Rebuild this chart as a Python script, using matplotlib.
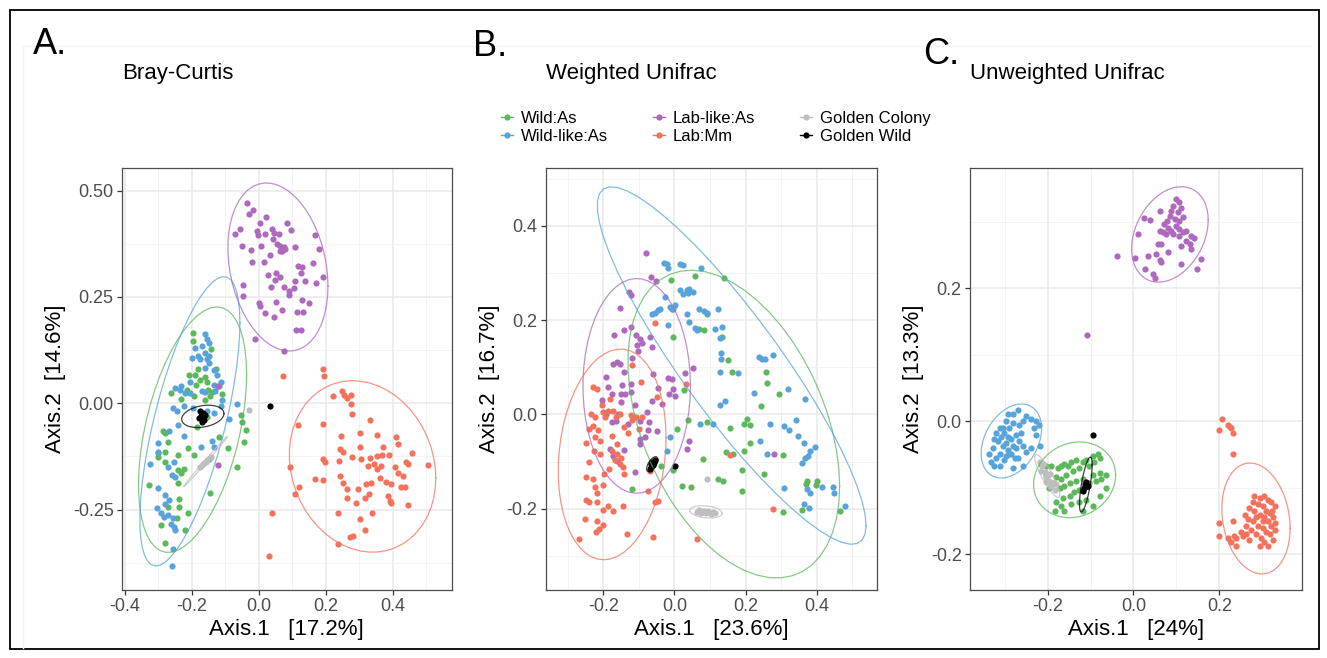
import numpy as np
import matplotlib
matplotlib.use('Agg')
import matplotlib.pyplot as plt
from matplotlib.lines import Line2D
from matplotlib.patches import Rectangle

plt.rcParams['font.family'] = ['Liberation Sans', 'DejaVu Sans']
plt.rcParams['axes.unicode_minus'] = False

GROUPS = ['Wild:As', 'Wild-like:As', 'Lab-like:As', 'Lab:Mm', 'Golden Colony', 'Golden Wild']
COLORS = ['#5DB85B', '#58A4DA', '#AE68BE', '#F4715C', '#BEBEBE', '#000000']

# ---- A. Bray-Curtis ----
bc_wild = [(-0.197, 0.166), (-0.198, 0.146), (-0.143, 0.128), (-0.129, 0.081), (-0.183, 0.081),
           (-0.210, 0.067), (-0.192, 0.067), (-0.162, 0.062), (-0.176, 0.055), (-0.188, 0.044),
           (-0.156, 0.051), (-0.151, 0.032), (-0.141, 0.026), (-0.262, 0.024), (-0.215, 0.032),
           (-0.161, 0.008), (-0.146, 0.016), (-0.109, 0.022), (-0.118, 0.040), (-0.233, 0.010),
           (-0.195, 0.018), (-0.050, -0.045), (-0.040, -0.063), (-0.055, -0.027), (-0.065, -0.149),
           (-0.092, -0.106), (-0.146, -0.210), (-0.193, -0.121), (-0.213, -0.106), (-0.282, -0.069),
           (-0.273, -0.090), (-0.287, -0.066), (-0.302, -0.118), (-0.280, -0.114), (-0.282, -0.137),
           (-0.243, -0.121), (-0.243, -0.157), (-0.233, -0.165), (-0.225, -0.155), (-0.327, -0.192),
           (-0.241, -0.188), (-0.238, -0.224), (-0.238, -0.243), (-0.273, -0.243), (-0.292, -0.287),
           (-0.245, -0.269), (-0.221, -0.297), (-0.213, -0.259), (-0.282, -0.328), (-0.300, -0.127),
           (-0.154, -0.033), (-0.174, -0.031), (-0.184, -0.055), (-0.120, -0.080), (-0.045, -0.090)]
bc_wildlike = [(-0.161, 0.162), (-0.156, 0.150), (-0.149, 0.142), (-0.171, 0.134), (-0.192, 0.130),
               (-0.182, 0.112), (-0.161, 0.118), (-0.149, 0.110), (-0.200, 0.107), (-0.176, 0.104),
               (-0.156, 0.104), (-0.149, 0.095), (-0.133, 0.079), (-0.126, 0.067), (-0.161, 0.083),
               (-0.205, 0.051), (-0.232, 0.040), (-0.235, 0.032), (-0.220, 0.024), (-0.205, 0.024),
               (-0.250, 0.036), (-0.113, 0.049), (-0.133, 0.044), (-0.131, 0.028), (-0.109, 0.008),
               (-0.171, 0.030), (-0.161, 0.026), (-0.258, -0.011), (-0.245, -0.019), (-0.223, -0.007),
               (-0.198, -0.011), (-0.154, -0.019), (-0.134, -0.023), (-0.090, -0.037), (-0.067, -0.001),
               (-0.114, -0.006), (-0.243, -0.051), (-0.223, -0.078), (-0.268, -0.066), (-0.300, -0.094),
               (-0.302, -0.114), (-0.253, -0.137), (-0.273, -0.149), (-0.261, -0.169), (-0.251, -0.174),
               (-0.324, -0.143), (-0.302, -0.200), (-0.282, -0.216), (-0.268, -0.228), (-0.280, -0.237),
               (-0.304, -0.247), (-0.294, -0.259), (-0.284, -0.267), (-0.273, -0.263), (-0.258, -0.271),
               (-0.253, -0.291), (-0.251, -0.298), (-0.263, -0.283), (-0.261, -0.383), (-0.258, -0.342),
               (-0.139, -0.088), (-0.134, -0.102), (-0.149, -0.132), (-0.174, -0.102)]
bc_lablike = [(-0.037, 0.470), (-0.030, 0.445), (-0.018, 0.454), (0.021, 0.438), (0.084, 0.425),
              (0.096, 0.407), (0.002, 0.425), (-0.057, 0.409), (-0.073, 0.399), (-0.007, 0.405),
              (-0.003, 0.395), (0.019, 0.399), (0.039, 0.409), (0.044, 0.401), (0.061, 0.399),
              (0.041, 0.386), (0.054, 0.375), (0.064, 0.370), (0.074, 0.368), (0.069, 0.358),
              (0.079, 0.362), (0.062, 0.358), (0.108, 0.368), (0.168, 0.396), (0.180, 0.362),
              (0.192, 0.297), (-0.050, 0.371), (-0.025, 0.360), (0.007, 0.370), (0.032, 0.348),
              (0.016, 0.333), (-0.022, 0.332), (0.118, 0.323), (0.128, 0.321), (0.126, 0.306),
              (0.162, 0.331), (0.027, 0.302), (0.051, 0.307), (0.047, 0.291), (0.064, 0.298),
              (0.108, 0.287), (0.138, 0.287), (0.170, 0.283), (-0.047, 0.278), (0.036, 0.274),
              (0.074, 0.273), (0.089, 0.264), (0.091, 0.254), (0.106, 0.270), (-0.047, 0.252),
              (0.000, 0.236), (0.004, 0.228), (0.052, 0.238), (0.128, 0.243), (0.148, 0.235),
              (0.019, 0.213), (0.069, 0.219), (0.046, 0.202), (0.113, 0.214), (0.131, 0.214),
              (0.110, 0.173), (0.126, 0.173), (-0.013, 0.150), (0.075, 0.124), (-0.121, 0.040),
              (-0.122, -0.145)]
bc_lab = [(0.071, 0.063), (0.190, 0.080), (0.193, 0.063), (0.222, 0.016), (0.247, 0.028),
          (0.255, 0.020), (0.262, 0.012), (0.274, 0.020), (0.274, -0.002), (0.279, -0.026),
          (0.331, -0.039), (0.118, -0.052), (0.190, -0.048), (0.245, -0.077), (0.301, -0.070),
          (0.354, -0.075), (0.408, -0.080), (0.415, -0.096), (0.242, -0.107), (0.252, -0.115),
          (0.301, -0.102), (0.370, -0.103), (0.458, -0.117), (0.192, -0.132), (0.197, -0.137),
          (0.279, -0.127), (0.331, -0.129), (0.354, -0.124), (0.366, -0.121), (0.388, -0.121),
          (0.439, -0.137), (0.504, -0.145), (0.238, -0.135), (0.306, -0.132), (0.325, -0.147),
          (0.345, -0.142), (0.352, -0.155), (0.365, -0.148), (0.405, -0.151), (0.415, -0.165),
          (0.430, -0.170), (0.445, -0.142), (0.094, -0.151), (0.168, -0.179), (0.190, -0.181),
          (0.242, -0.171), (0.252, -0.188), (0.262, -0.201), (0.296, -0.201), (0.321, -0.189),
          (0.336, -0.188), (0.361, -0.176), (0.380, -0.186), (0.395, -0.191), (0.425, -0.196),
          (0.435, -0.198), (0.121, -0.196), (0.109, -0.214), (0.262, -0.222), (0.289, -0.234),
          (0.316, -0.222), (0.330, -0.214), (0.385, -0.219), (0.390, -0.231), (0.395, -0.234),
          (0.445, -0.240), (0.237, -0.259), (0.301, -0.272), (0.339, -0.259), (0.316, -0.297),
          (0.272, -0.314), (0.280, -0.312), (0.235, -0.330), (0.039, -0.259), (0.030, -0.359)]
bc_gcolony = [(-0.169, -0.145), (-0.159, -0.137), (-0.154, -0.133), (-0.144, -0.127),
              (-0.176, -0.151), (-0.164, -0.141), (-0.030, -0.017)]
bc_gwild = [(-0.175, -0.018), (-0.168, -0.022), (-0.172, -0.030), (-0.165, -0.040),
            (-0.170, -0.045), (-0.178, -0.035), (-0.160, -0.028), (0.034, -0.007)]

# ---- B. Weighted Unifrac ----
wu_wild = [(-0.010, 0.285), (0.058, 0.294), (0.140, 0.289), (-0.007, 0.224), (0.091, 0.212),
           (0.068, 0.181), (0.082, 0.178), (-0.003, 0.164), (0.133, 0.164), (0.150, 0.116),
           (0.162, 0.089), (0.027, 0.052), (0.258, 0.089), (0.260, 0.066), (0.293, 0.043),
           (0.244, 0.017), (0.195, -0.020), (0.204, -0.010), (0.213, -0.022), (0.093, -0.017),
           (0.155, -0.029), (0.037, -0.012), (0.007, -0.030), (0.213, -0.061), (0.145, -0.080),
           (0.166, -0.083), (0.197, -0.077), (0.305, -0.086), (0.080, -0.095), (-0.003, -0.118),
           (0.021, -0.151), (0.046, -0.154), (0.122, -0.136), (0.136, -0.142), (0.190, -0.118),
           (0.251, -0.127), (0.190, -0.163), (0.371, -0.148), (0.373, -0.141), (0.401, -0.141),
           (0.398, -0.150), (0.305, -0.207), (0.359, -0.203), (0.466, -0.205), (-0.038, -0.110),
           (-0.120, -0.158)]
wu_wildlike = [(-0.029, 0.322), (-0.022, 0.319), (-0.017, 0.310), (0.016, 0.319), (0.023, 0.316),
               (0.075, 0.311), (0.016, 0.264), (0.035, 0.264), (0.042, 0.266), (0.051, 0.260),
               (0.025, 0.255), (0.037, 0.257), (-0.064, 0.212), (-0.054, 0.216), (-0.045, 0.221),
               (-0.040, 0.224), (-0.026, 0.248), (-0.012, 0.228), (-0.003, 0.224), (0.002, 0.233),
               (0.068, 0.224), (0.082, 0.220), (0.091, 0.215), (0.124, 0.224), (0.035, 0.212),
               (0.040, 0.197), (0.058, 0.184), (0.063, 0.180), (0.115, 0.182), (0.133, 0.186),
               (0.129, 0.161), (-0.017, 0.190), (0.131, 0.131), (0.131, 0.117), (0.129, 0.091),
               (0.178, 0.088), (0.237, 0.122), (0.246, 0.117), (0.255, 0.117), (0.277, 0.126),
               (0.223, 0.046), (0.319, 0.055), (0.366, 0.033), (0.129, 0.019), (0.143, 0.028),
               (0.072, -0.021), (0.108, -0.021), (0.241, -0.056), (0.269, -0.021), (0.307, -0.025),
               (0.321, -0.034), (0.343, -0.012), (0.349, -0.045), (0.364, -0.060), (0.380, -0.078),
               (0.396, -0.069), (0.376, -0.087), (0.368, -0.092), (0.359, -0.103), (0.260, -0.083),
               (0.309, -0.156), (0.373, -0.158), (0.382, -0.167), (0.415, -0.154), (0.446, -0.154),
               (0.448, -0.167), (0.364, -0.190), (0.378, -0.198), (0.479, -0.194), (-0.022, -0.078),
               (-0.012, -0.047)]
wu_lablike = [(-0.080, 0.342), (-0.066, 0.291), (-0.052, 0.282), (-0.129, 0.259), (-0.122, 0.254),
              (-0.153, 0.226), (-0.169, 0.169), (-0.141, 0.178), (-0.122, 0.185), (-0.108, 0.169),
              (-0.096, 0.160), (-0.092, 0.151), (-0.106, 0.148), (-0.101, 0.134), (-0.070, 0.165),
              (-0.063, 0.142), (-0.174, 0.107), (-0.162, 0.111), (-0.153, 0.108), (-0.141, 0.089),
              (-0.191, 0.079), (-0.186, 0.059), (-0.148, 0.063), (-0.122, 0.065), (-0.150, 0.043),
              (-0.139, 0.043), (-0.122, 0.047), (-0.176, 0.043), (-0.059, 0.086), (-0.047, 0.057),
              (-0.063, 0.029), (-0.036, 0.023), (-0.150, 0.026), (-0.191, 0.001), (-0.176, -0.016),
              (-0.165, -0.013), (-0.158, 0.001), (-0.098, -0.013), (-0.078, 0.005), (-0.071, -0.016),
              (-0.050, -0.036), (-0.098, -0.051), (-0.083, -0.047), (-0.181, -0.073), (-0.141, -0.075),
              (-0.162, -0.098), (-0.172, -0.087), (-0.017, 0.078), (-0.007, 0.075), (-0.015, 0.043),
              (0.002, 0.040), (0.030, 0.088), (0.052, 0.098), (-0.003, 0.055), (0.042, -0.056),
              (0.035, -0.074), (0.279, -0.083), (-0.075, -0.034), (-0.097, -0.063), (-0.111, -0.123),
              (-0.130, -0.020), (-0.110, 0.020), (-0.205, 0.030), (-0.120, 0.120)]
wu_lab = [(-0.054, 0.193), (-0.120, 0.104), (-0.094, 0.068), (-0.230, 0.058), (-0.219, 0.054),
          (-0.181, 0.033), (-0.050, 0.038), (-0.235, 0.001), (-0.223, -0.005), (-0.200, 0.005),
          (-0.186, 0.008), (-0.172, 0.007), (-0.195, -0.006), (-0.165, -0.006), (-0.153, 0.002),
          (-0.122, -0.002), (-0.109, -0.005), (-0.092, -0.006), (-0.118, -0.012), (-0.141, -0.026),
          (-0.228, -0.024), (-0.214, -0.033), (-0.223, -0.048), (-0.209, -0.056), (-0.176, -0.045),
          (-0.162, -0.063), (-0.225, -0.077), (-0.209, -0.084), (-0.176, -0.077), (-0.162, -0.084),
          (-0.150, -0.092), (-0.167, -0.097), (-0.153, -0.104), (-0.144, -0.112), (-0.141, -0.127),
          (-0.250, -0.132), (-0.223, -0.154), (-0.219, -0.167), (-0.249, -0.181), (-0.239, -0.185),
          (-0.219, -0.185), (-0.200, -0.150), (-0.202, -0.203), (-0.186, -0.194), (-0.172, -0.205),
          (-0.145, -0.194), (-0.251, -0.221), (-0.219, -0.225), (-0.212, -0.243), (-0.221, -0.250),
          (-0.200, -0.234), (-0.267, -0.265), (-0.132, -0.253), (-0.061, -0.259), (-0.073, -0.163),
          (-0.054, -0.185), (-0.045, -0.183), (0.063, -0.263), (0.277, -0.201), (0.155, -0.085),
          (0.033, 0.064), (-0.230, -0.136), (-0.198, -0.126), (-0.240, -0.100), (-0.250, -0.060),
          (-0.185, -0.115), (-0.130, -0.040), (-0.100, -0.030), (-0.070, -0.120), (-0.205, 0.020),
          (-0.240, -0.030)]
wu_gcolony = [(0.063, -0.206), (0.070, -0.203), (0.076, -0.208), (0.083, -0.204), (0.089, -0.209),
              (0.095, -0.205), (0.102, -0.210), (0.108, -0.206), (0.114, -0.209), (0.091, -0.136)]
wu_gwild = [(-0.070, -0.116), (-0.067, -0.112), (-0.064, -0.108), (-0.061, -0.104), (-0.058, -0.100),
            (-0.055, -0.096), (-0.066, -0.106), (-0.059, -0.108), (-0.062, -0.100), (0.002, -0.109)]

# ---- C. Unweighted Unifrac ----
uu_wild = [(-0.215, -0.065), (-0.204, -0.068), (-0.192, -0.067), (-0.176, -0.071), (-0.169, -0.068),
           (-0.161, -0.065), (-0.153, -0.068), (-0.145, -0.062), (-0.134, -0.059), (-0.118, -0.062),
           (-0.110, -0.059), (-0.095, -0.052), (-0.083, -0.049), (-0.079, -0.056), (-0.091, -0.062),
           (-0.103, -0.068), (-0.126, -0.071), (-0.141, -0.075), (-0.157, -0.081), (-0.169, -0.087),
           (-0.180, -0.084), (-0.188, -0.093), (-0.172, -0.100), (-0.161, -0.097), (-0.149, -0.093),
           (-0.134, -0.090), (-0.118, -0.087), (-0.103, -0.093), (-0.087, -0.090), (-0.075, -0.087),
           (-0.064, -0.081), (-0.079, -0.078), (-0.095, -0.081), (-0.126, -0.103), (-0.138, -0.106),
           (-0.149, -0.112), (-0.165, -0.116), (-0.180, -0.122), (-0.184, -0.135), (-0.169, -0.128),
           (-0.145, -0.125), (-0.126, -0.122), (-0.110, -0.119), (-0.095, -0.128), (-0.079, -0.112),
           (-0.064, -0.100), (-0.204, -0.081), (-0.196, -0.100), (-0.161, -0.135), (-0.118, -0.135)]
uu_wildlike = [(-0.293, 0.011), (-0.281, 0.011), (-0.270, 0.017), (-0.297, 0.001), (-0.312, -0.011),
               (-0.320, -0.018), (-0.324, -0.027), (-0.316, -0.030), (-0.308, -0.024), (-0.301, -0.018),
               (-0.289, -0.011), (-0.293, -0.024), (-0.285, -0.027), (-0.297, -0.033), (-0.305, -0.037),
               (-0.293, -0.043), (-0.285, -0.049), (-0.277, -0.056), (-0.328, -0.040), (-0.336, -0.049),
               (-0.332, -0.062), (-0.320, -0.056), (-0.312, -0.049), (-0.297, -0.052), (-0.281, -0.037),
               (-0.274, -0.021), (-0.266, -0.005), (-0.258, 0.001), (-0.250, 0.008), (-0.239, 0.004),
               (-0.227, 0.001), (-0.221, -0.005), (-0.231, -0.011), (-0.227, -0.021), (-0.219, -0.037),
               (-0.239, -0.040), (-0.250, -0.046), (-0.258, -0.037), (-0.266, -0.030), (-0.274, -0.040),
               (-0.262, -0.018), (-0.281, -0.002), (-0.270, -0.056), (-0.301, -0.059), (-0.312, -0.068),
               (-0.324, -0.068), (-0.281, -0.071), (-0.258, -0.068), (-0.289, -0.049), (-0.303, -0.011)]
uu_lablike = [(0.099, 0.334), (0.107, 0.329), (0.093, 0.324), (0.111, 0.321), (0.088, 0.316),
              (0.103, 0.314), (0.084, 0.309), (0.096, 0.304), (0.107, 0.301), (0.115, 0.307),
              (0.078, 0.301), (0.072, 0.296), (0.080, 0.291), (0.088, 0.286), (0.099, 0.294),
              (0.107, 0.289), (0.115, 0.284), (0.123, 0.286), (0.134, 0.279), (0.142, 0.276),
              (0.061, 0.286), (0.068, 0.284), (0.076, 0.281), (0.092, 0.281), (0.107, 0.279),
              (0.123, 0.271), (0.131, 0.266), (0.134, 0.259), (0.111, 0.264), (0.057, 0.266),
              (0.064, 0.266), (0.080, 0.254), (0.053, 0.251), (0.061, 0.243), (0.064, 0.240),
              (0.033, 0.248), (0.026, 0.228), (0.045, 0.221), (0.051, 0.215), (0.111, 0.236),
              (0.148, 0.228), (0.158, 0.244), (0.003, 0.245), (-0.038, 0.248), (0.010, 0.281),
              (0.024, 0.306), (0.039, 0.302), (0.061, 0.316), (-0.108, 0.130)]
uu_lab = [(0.207, 0.004), (0.220, -0.005), (0.228, -0.011), (0.233, -0.018), (0.199, -0.014),
          (0.232, -0.050), (0.224, -0.009), (0.282, -0.112), (0.294, -0.116), (0.305, -0.112),
          (0.313, -0.119), (0.321, -0.122), (0.329, -0.128), (0.278, -0.122), (0.290, -0.125),
          (0.301, -0.128), (0.309, -0.135), (0.317, -0.138), (0.325, -0.144), (0.270, -0.131),
          (0.282, -0.135), (0.294, -0.141), (0.305, -0.144), (0.313, -0.150), (0.321, -0.157),
          (0.329, -0.153), (0.259, -0.141), (0.267, -0.147), (0.278, -0.150), (0.290, -0.157),
          (0.301, -0.160), (0.309, -0.166), (0.317, -0.169), (0.263, -0.157), (0.274, -0.163),
          (0.286, -0.169), (0.298, -0.176), (0.305, -0.182), (0.313, -0.188), (0.251, -0.166),
          (0.239, -0.176), (0.255, -0.172), (0.270, -0.179), (0.294, -0.188), (0.325, -0.179),
          (0.232, -0.150), (0.235, -0.172), (0.200, -0.153), (0.200, -0.172), (0.220, -0.176),
          (0.228, -0.182), (0.239, -0.188), (0.301, -0.150), (0.286, -0.144), (0.263, -0.169),
          (0.329, -0.163), (0.323, -0.135)]
uu_gcolony = [(-0.219, -0.061), (-0.213, -0.068), (-0.207, -0.076), (-0.204, -0.084), (-0.197, -0.090),
              (-0.192, -0.097), (-0.184, -0.103), (-0.200, -0.081), (-0.188, -0.093), (-0.210, -0.065),
              (-0.215, -0.075), (-0.205, -0.091), (-0.195, -0.079), (-0.181, -0.094)]
uu_gwild = [(-0.112, -0.095), (-0.108, -0.098), (-0.115, -0.100), (-0.110, -0.092),
            (-0.106, -0.097), (-0.118, -0.105), (-0.095, -0.021)]

panels = [
    dict(letter='A.', title='Bray-Curtis', xlab='Axis.1   [17.2%]', ylab='Axis.2  [14.6%]',
         data=[bc_wild, bc_wildlike, bc_lablike, bc_lab, bc_gcolony, bc_gwild],
         xlim=(-0.409, 0.575), ylim=(-0.438, 0.554),
         xt=[-0.4, -0.2, 0.0, 0.2, 0.4], xm=[-0.3, -0.1, 0.1, 0.3, 0.5],
         yt=[-0.25, 0.0, 0.25, 0.50], ym=[-0.375, -0.125, 0.125, 0.375], yfmt='%.2f'),
    dict(letter='B.', title='Weighted Unifrac', xlab='Axis.1   [23.6%]', ylab='Axis.2  [16.7%]',
         data=[wu_wild, wu_wildlike, wu_lablike, wu_lab, wu_gcolony, wu_gwild],
         xlim=(-0.362, 0.569), ylim=(-0.371, 0.523),
         xt=[-0.2, 0.0, 0.2, 0.4], xm=[-0.3, -0.1, 0.1, 0.3, 0.5],
         yt=[-0.2, 0.0, 0.2, 0.4], ym=[-0.3, -0.1, 0.1, 0.3, 0.5], yfmt='%.1f'),
    dict(letter='C.', title='Unweighted Unifrac', xlab='Axis.1   [24%]', ylab='Axis.2  [13.3%]',
         data=[uu_wild, uu_wildlike, uu_lablike, uu_lab, uu_gcolony, uu_gwild],
         xlim=(-0.381, 0.392), ylim=(-0.253, 0.381),
         xt=[-0.2, 0.0, 0.2], xm=[-0.3, -0.1, 0.1, 0.3],
         yt=[-0.2, 0.0, 0.2], ym=[-0.1, 0.1, 0.3], yfmt='%.1f'),
]


def stat_ellipse(pts, level=0.95, nu=5, segments=51):
    # same as ggplot2 stat_ellipse(type='t'): MASS::cov.trob + F quantile radius
    pts = np.asarray(pts, dtype=float)
    n = len(pts)
    loc = pts.mean(axis=0)
    w = np.ones(n)
    for it in range(25):
        w0 = w
        d = pts - loc
        s = (d * (w / w.sum())[:, None]).T @ d
        q = np.einsum('ij,jk,ik->i', d, np.linalg.inv(s), d)
        w = (nu + 2) / (nu + q)
        loc = (w[:, None] * pts).sum(axis=0) / w.sum()
        if np.all(np.abs(w - w0) < 0.01):
            break
    cov = (d * w[:, None]).T @ d / n
    dfd = n - 1
    radius = np.sqrt(2 * (dfd / 2.0) * ((1 - level) ** (-2.0 / dfd) - 1))
    ang = np.arange(segments + 1) * 2 * np.pi / segments
    circ = np.column_stack([np.cos(ang), np.sin(ang)])
    u = np.linalg.cholesky(cov).T
    return loc + radius * circ @ u


W, H = 1327, 658
fig = plt.figure(figsize=(W / 100, H / 100), dpi=100)
fig.patch.set_facecolor('white')


def box(l, t, r, b):
    return [l / W, 1 - b / H, (r - l) / W, (b - t) / H]


axes_px = [(122, 167.7, 451.5, 589.5), (545.7, 167.7, 876.7, 589.5), (970, 167.7, 1301.7, 589.5)]
letter_px = [(33, 45), (473, 46), (923, 55)]

for p, apx, lpx in zip(panels, axes_px, letter_px):
    ax = fig.add_axes(box(*apx))
    for pts, c in zip(p['data'], COLORS):
        pts = np.asarray(pts)
        ax.scatter(pts[:, 0], pts[:, 1], s=20, color=c, linewidths=0, zorder=3)
    for pts, c in zip(p['data'], COLORS):
        e = stat_ellipse(pts)
        ax.plot(e[:, 0], e[:, 1], color=c, lw=0.9, alpha=0.75, zorder=4)
    ax.set_xlim(*p['xlim'])
    ax.set_ylim(*p['ylim'])
    ax.set_xticks(p['xt'])
    ax.set_xticklabels(['%.1f' % v for v in p['xt']])
    ax.set_xticks(p['xm'], minor=True)
    ax.set_yticks(p['yt'])
    ax.set_yticklabels([p['yfmt'] % v for v in p['yt']])
    ax.set_yticks(p['ym'], minor=True)
    ax.grid(which='major', color='#EBEBEB', lw=1.2, zorder=0)
    ax.grid(which='minor', color='#F3F3F3', lw=0.7, zorder=0)
    ax.set_axisbelow(True)
    ax.tick_params(which='major', length=3.5, width=0.9, color='#333333',
                   labelsize=13, labelcolor='#4D4D4D', pad=2.5)
    ax.tick_params(which='minor', length=0)
    for sp in ax.spines.values():
        sp.set_color('#4D4D4D')
        sp.set_linewidth(0.9)
    ax.set_xlabel(p['xlab'], fontsize=16, labelpad=3)
    ax.set_ylabel(p['ylab'], fontsize=16, labelpad=5)
    fig.text(lpx[0] / W, 1 - lpx[1] / H, p['letter'], fontsize=26, va='center', ha='left')
    fig.text(apx[0] / W, 1 - 73 / H, p['title'], fontsize=16, va='center', ha='left')

handles = [Line2D([0], [0], color=c, marker='o', markersize=4.5, lw=1.0, markeredgewidth=0)
           for c in COLORS]
fig.legend(handles, GROUPS, ncol=3, loc='center', bbox_to_anchor=(716 / W, 1 - 127.5 / H),
           frameon=False, fontsize=12, handlelength=0.7, handletextpad=0.5,
           columnspacing=2.7, labelspacing=0.15, borderpad=0)

fig.add_artist(Line2D([23 / W, 1310 / W], [1 - 46 / H, 1 - 46 / H], color='#F3F3F3', lw=1))
fig.add_artist(Line2D([23 / W, 23 / W], [1 - 46 / H, 1 - 648 / H], color='#F3F3F3', lw=1))
fig.add_artist(Rectangle((10 / W, 1 - 649 / H), 1309 / W, 639 / H, transform=fig.transFigure,
                         fill=False, ec='black', lw=1.3))

fig.savefig('out.png', dpi=100)
